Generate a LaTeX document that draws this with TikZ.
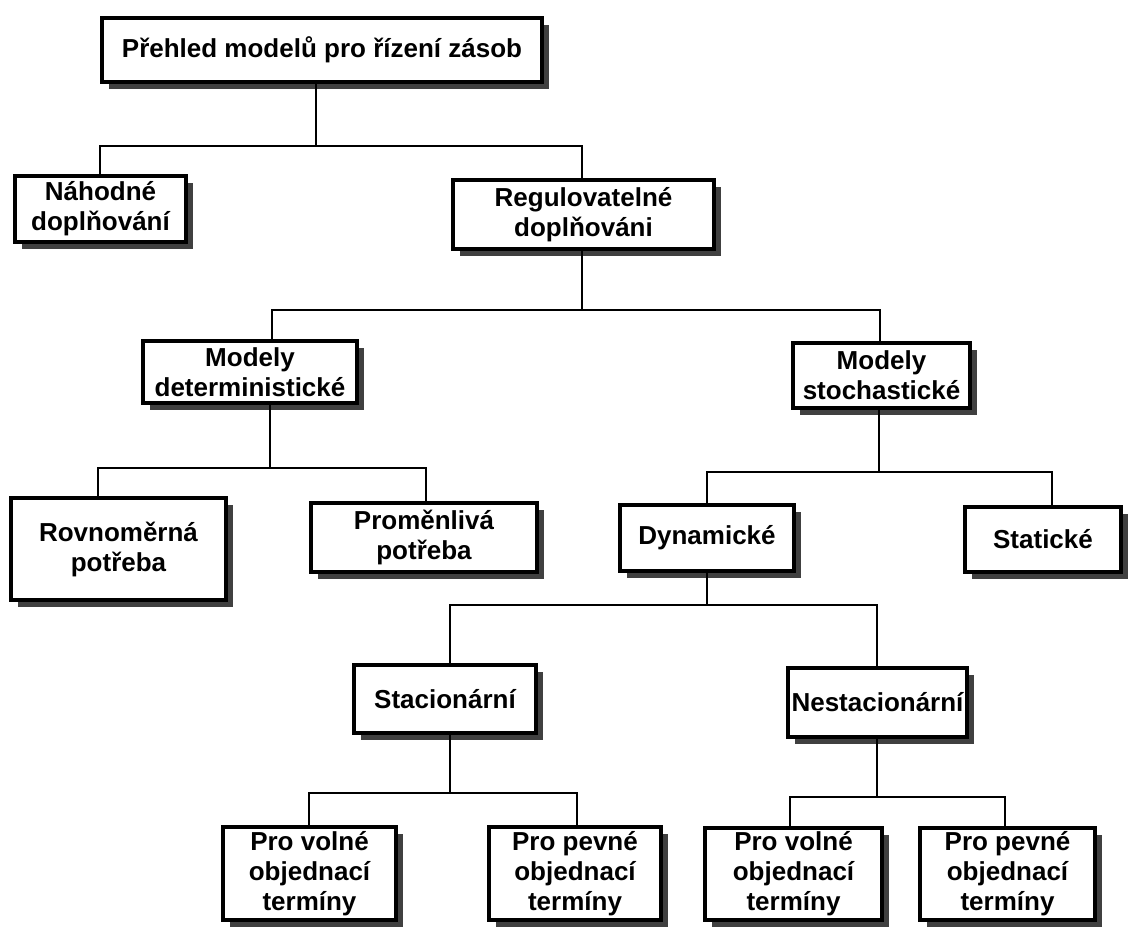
\documentclass[tikz,border=0pt]{standalone}
\usepackage{fontspec}
\setmainfont{Liberation Sans}
\usetikzlibrary{shadows}
\begin{document}
\begin{tikzpicture}[x=1pt,y=-1pt,
  box/.style={draw=black, line width=3.2pt, fill=white, align=center, inner sep=0pt,
    font=\fontsize{26}{30}\selectfont\bfseries,
    drop shadow={shadow xshift=7pt, shadow yshift=-7pt, fill=black!75, opacity=1}},
  conn/.style={draw=black, line width=2.2pt}]
\useasboundingbox (0,0) rectangle (1129,929);
\fill[white] (0,0) rectangle (1129,929);
% boxes: center and size
\node[box, minimum width=440pt, minimum height=64pt] (A) at (322,50) {Přehled modelů pro řízení zásob};
\node[box, minimum width=171pt, minimum height=66pt] (B) at (100.5,209) {Náhodné\\doplňování};
\node[box, minimum width=261pt, minimum height=69pt] (C) at (583.5,214.5) {Regulovatelné\\doplňováni};
\node[box, minimum width=214pt, minimum height=62pt] (D) at (250,372) {Modely\\deterministické};
\node[box, minimum width=177pt, minimum height=65pt] (E) at (881.5,375.5) {Modely\\stochastické};
\node[box, minimum width=215pt, minimum height=102pt] (F) at (118.5,549) {Rovnoměrná\\potřeba};
\node[box, minimum width=226pt, minimum height=69pt] (G) at (424,537.5) {Proměnlivá\\potřeba};
\node[box, minimum width=174pt, minimum height=66pt] (H) at (707,538) {Dynamické};
\node[box, minimum width=156pt, minimum height=65pt] (I) at (1043,539.5) {Statické};
\node[box, minimum width=182pt, minimum height=68pt] (J) at (445,699) {Stacionární};
\node[box, minimum width=179pt, minimum height=69pt] (K) at (877.5,702.5) {Nestacionární};
\node[box, minimum width=173pt, minimum height=93pt] (L) at (309.5,873.5) {Pro volné\\objednací\\termíny};
\node[box, minimum width=172pt, minimum height=93pt] (M) at (575,873.5) {Pro pevné\\objednací\\termíny};
\node[box, minimum width=177pt, minimum height=92pt] (N) at (793.5,874) {Pro volné\\objednací\\termíny};
\node[box, minimum width=175pt, minimum height=92pt] (O) at (1007.5,874) {Pro pevné\\objednací\\termíny};
% junctions
\coordinate (jA) at (316,146);
\coordinate (jC) at (582,310);
\coordinate (jD) at (270,468);
\coordinate (jE) at (879,472);
\coordinate (jH) at (707,605);
\coordinate (jJ) at (450,793);
\coordinate (jK) at (877,797);
% connectors
\draw[conn] (jA |- A.south) -- (jA);
\draw[conn] ([xshift=-0.5pt]B.north) |- (jA) -| ([xshift=-1.5pt]C.north);
\draw[conn] (jC |- C.south) -- (jC);
\draw[conn] ([xshift=22pt]D.north) |- (jC) -| ([xshift=-1.5pt]E.north);
\draw[conn] (jD |- D.south) -- (jD);
\draw[conn] ([xshift=-20.5pt]F.north) |- (jD) -| ([xshift=2pt]G.north);
\draw[conn] (jE |- E.south) -- (jE);
\draw[conn] (H.north) |- (jE) -| ([xshift=9pt]I.north);
\draw[conn] (jH |- H.south) -- (jH);
\draw[conn] ([xshift=5pt]J.north) |- (jH) -| ([xshift=-0.5pt]K.north);
\draw[conn] (jJ |- J.south) -- (jJ);
\draw[conn] ([xshift=-0.5pt]L.north) |- (jJ) -| ([xshift=2pt]M.north);
\draw[conn] (jK |- K.south) -- (jK);
\draw[conn] ([xshift=-3.5pt]N.north) |- (jK) -| ([xshift=-2.5pt]O.north);
\end{tikzpicture}
\end{document}
